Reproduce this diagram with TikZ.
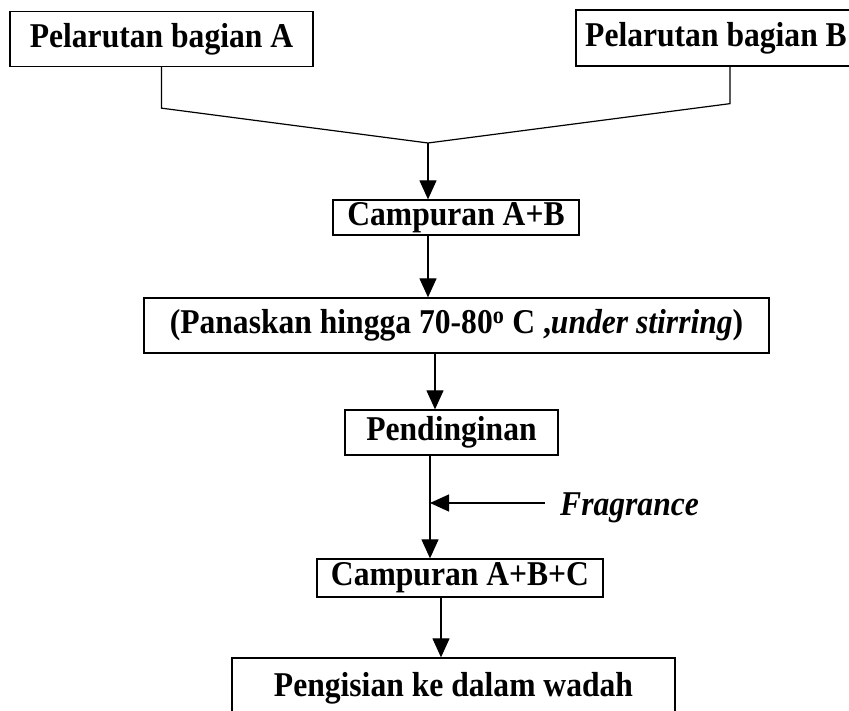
\documentclass[tikz,border=0pt]{standalone}
\usepackage{fontspec}
\usepackage{graphicx}
\setmainfont{Liberation Serif}
\usetikzlibrary{arrows.meta}
\newcommand{\tinggi}[1]{\scalebox{1}[1.1]{#1}}

\begin{document}
\begin{tikzpicture}[x=1pt,y=-1pt,
  kotak/.style={draw, line width=1.3pt, inner sep=0pt,
    font=\fontsize{31.6}{36}\selectfont\bfseries},
  panah/.style={line width=1.2pt, -{Triangle[length=19pt,width=17pt]}}]
  \clip (0,0) rectangle (849,711);

  % Kotak
  \node[kotak, minimum width=303pt, minimum height=55pt] (partA) at (161.5,39) {\tinggi{Pelarutan bagian A}};
  \node[kotak, minimum width=280pt, minimum height=56pt] (partB) at (716,38) {\tinggi{Pelarutan bagian B}};
  \node[kotak, minimum width=246pt, minimum height=35pt] (ab) at (456,217.5) {\tinggi{Campuran A+B}};
  \node[kotak, minimum width=625pt, minimum height=55pt] (heat) at (456.5,325.5)
    {\tinggi{(Panaskan hingga 70-80\textsuperscript{o} C ,\textit{under stirring})}};
  \node[kotak, minimum width=213pt, minimum height=45pt] (cool) at (451.5,432.5) {\tinggi{Pendinginan}};
  \node[kotak, minimum width=286pt, minimum height=38pt] (abc) at (460,578) {\tinggi{Campuran A+B+C}};
  \node[kotak, minimum width=443pt, minimum height=60pt] (fill) at (453.5,688) {\tinggi{Pengisian ke dalam wadah}};
  \node[font=\fontsize{31.6}{36}\selectfont\bfseries\itshape, anchor=west, inner sep=0pt]
    (frag) at (560,508) {\tinggi{Fragrance}};

  % Garis gabungan
  \coordinate (join) at (428,143);
  \draw[line width=1.2pt] (partA.south) -- ++(0,41) -- (join);
  \draw[line width=1.2pt] (partB.south -| 730,0) -- ++(0,37) -- (join);
  \draw[panah] (join) -- (join |- ab.north);

  % Panah
  \foreach \from/\to/\x in {ab/heat/428, heat/cool/435, cool/abc/430, abc/fill/441}{
    \coordinate (lane) at (\x,0);
    \draw[panah] (\from.south -| lane) -- (\to.north -| lane);
  }
  \coordinate (inlet) at (430,0);
  \draw[panah] ([xshift=-15pt,yshift=5pt]frag.west) -- ([yshift=5pt]frag.west -| inlet);

\end{tikzpicture}
\end{document}
